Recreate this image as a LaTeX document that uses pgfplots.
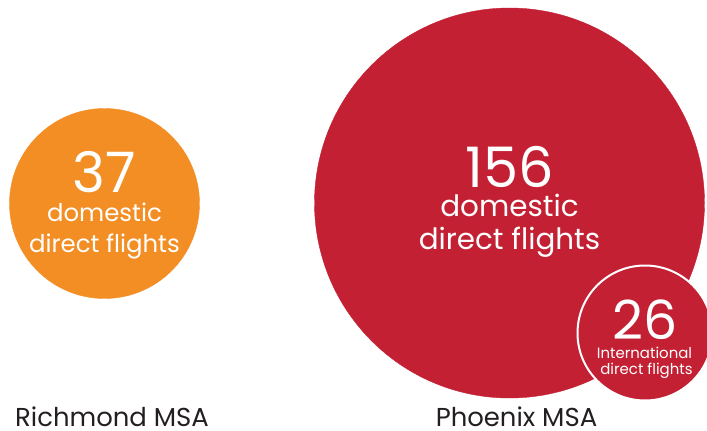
\documentclass[border=0pt]{standalone}
\usepackage{pgfplots}
\pgfplotsset{compat=1.18}
\usepackage{fontspec}
\setmainfont{Poppins}[Ligatures={NoCommon}]
\definecolor{rich}{HTML}{F28E23}
\definecolor{phx}{HTML}{C32034}
\definecolor{txt}{HTML}{231F20}
\begin{document}
\begin{tikzpicture}
\begin{axis}[
  scale only axis, width=707bp, height=431bp,
  xmin=0, xmax=707, ymin=0, ymax=431, y dir=reverse,
  hide axis, clip=true, clip marker paths=true,
  point meta=explicit symbolic,
  nodes near coords={\pgfplotspointmeta},
]
% Richmond: 37 domestic
\addplot[rich, only marks, mark=*, mark size=95bp, mark options={fill=rich, draw=none},
  every node near coord/.append style={white, anchor=base, inner sep=0pt, yshift=11bp, font=\fontsize{56}{56}\selectfont}]
  coordinates {(104.5,203.5) [37]};
% Phoenix: 156 domestic
\addplot[phx, only marks, mark=*, mark size=195bp, mark options={fill=phx, draw=none},
  every node near coord/.append style={white, anchor=base, inner sep=0pt, yshift=16bp, font=\fontsize{56}{56}\selectfont}]
  coordinates {(509.5,203) [156]};
% Phoenix: 26 international
\addplot[phx, only marks, mark=*, mark size=67.5bp, mark options={fill=phx, draw=white, line width=2bp},
  every node near coord/.append style={white, anchor=base, inner sep=0pt, yshift=-6bp, font=\fontsize{54}{54}\selectfont}]
  coordinates {(645,333) [26]};

\node[white, anchor=base, inner sep=0pt, font=\fontsize{24.5}{24.5}\selectfont] at (axis cs:104.5,221) {domestic};
\node[white, anchor=base, inner sep=0pt, font=\fontsize{24.5}{24.5}\selectfont] at (axis cs:104.5,252) {direct flights};
\node[white, anchor=base, inner sep=0pt, font=\fontsize{29.5}{29.5}\selectfont] at (axis cs:509.5,216) {domestic};
\node[white, anchor=base, inner sep=0pt, font=\fontsize{29.5}{29.5}\selectfont] at (axis cs:509.5,249.5) {direct flights};
\node[white, anchor=base, inner sep=0pt, font=\fontsize{15}{15}\selectfont] at (axis cs:644.5,358) {International};
\node[white, anchor=base, inner sep=0pt, font=\fontsize{15}{15}\selectfont] at (axis cs:646.5,374) {direct flights};
\node[txt, anchor=base, inner sep=0pt, text depth=0pt, font=\fontsize{26}{26}\selectfont] at (axis cs:112,426.5) {Richmond MSA};
\node[txt, anchor=base, inner sep=0pt, text depth=0pt, font=\fontsize{26}{26}\selectfont] at (axis cs:516.5,426.5) {Phoenix MSA};
\end{axis}
\pgfresetboundingbox
\path[use as bounding box] (current axis.south west) rectangle (current axis.north east);
\end{tikzpicture}
\end{document}
